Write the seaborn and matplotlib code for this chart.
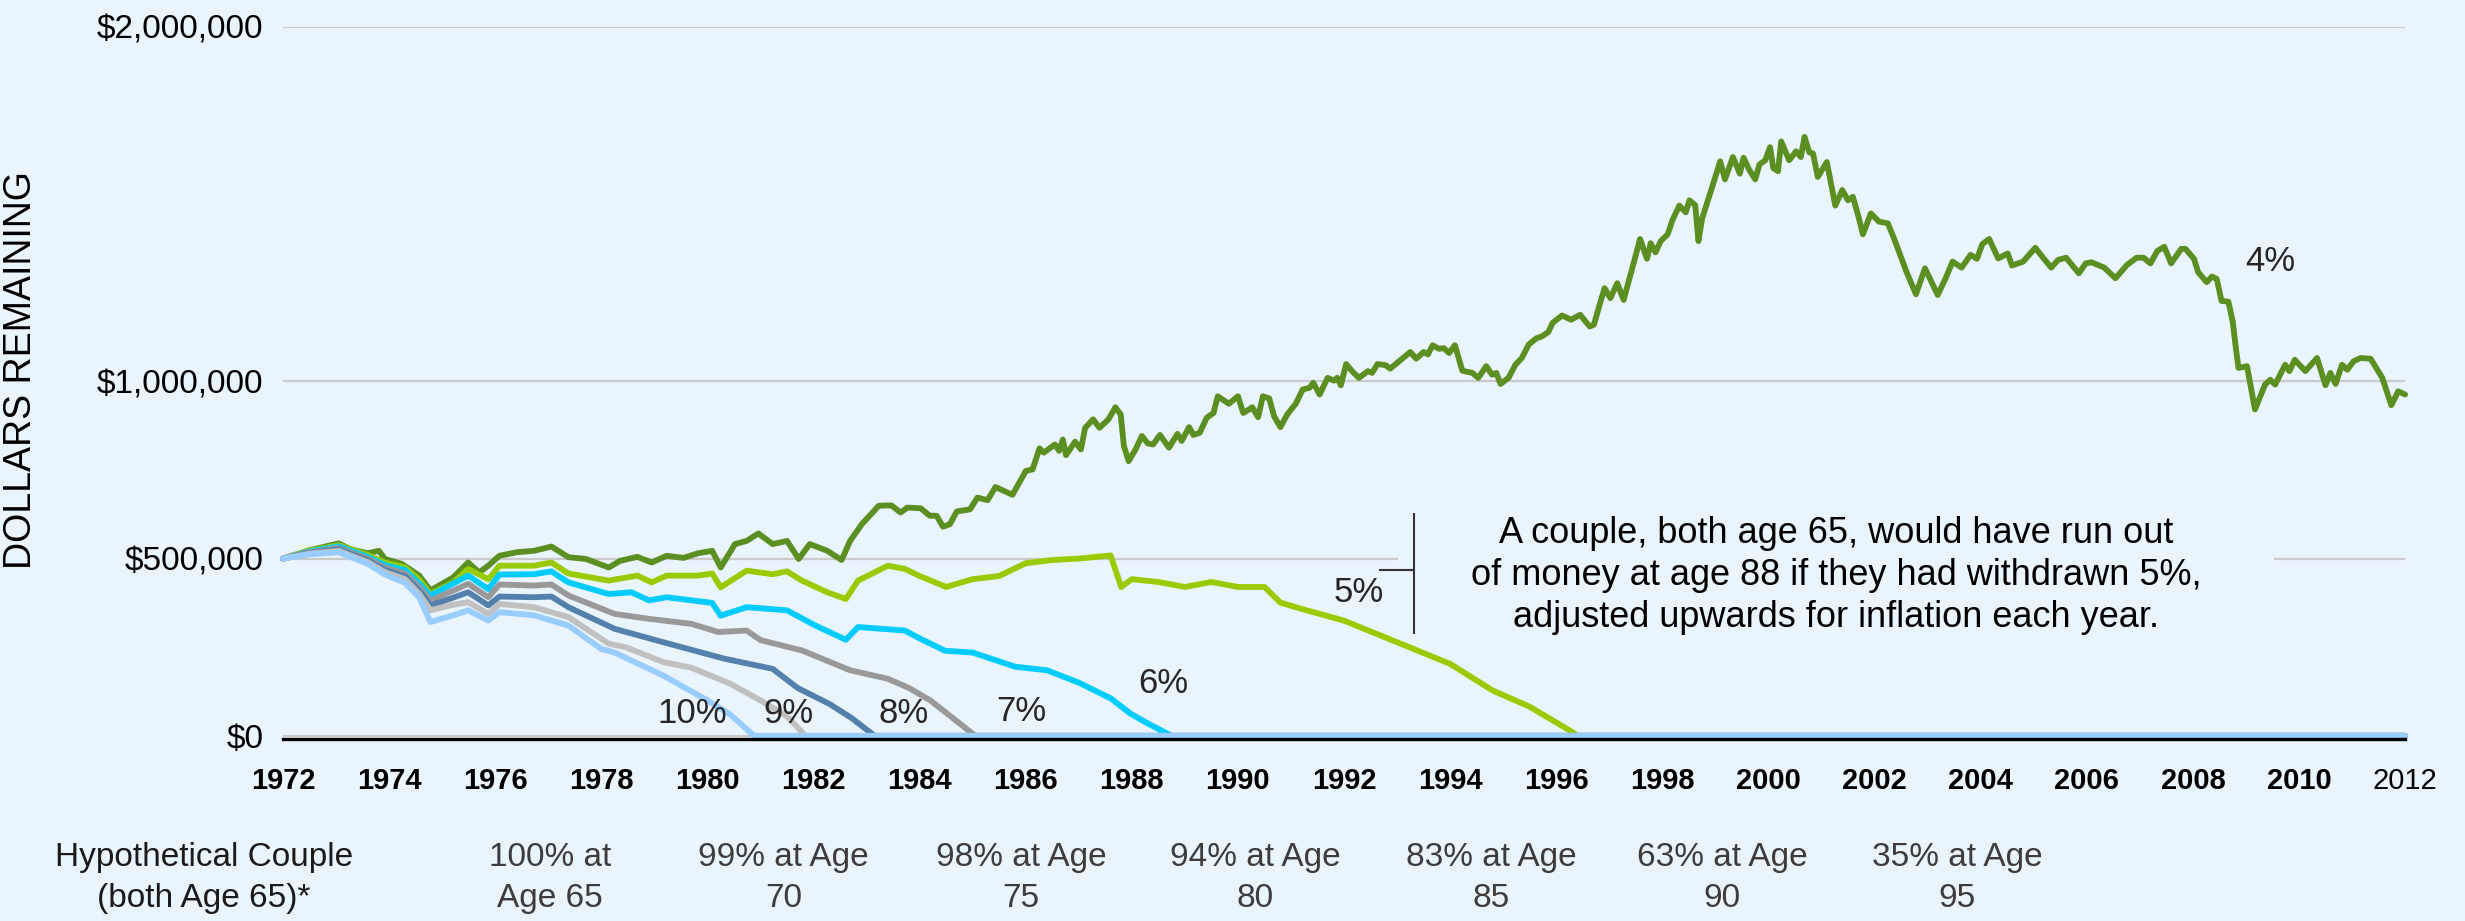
import seaborn as sns
import matplotlib.pyplot as plt
import matplotlib.transforms as mtransforms
from matplotlib.patches import Rectangle
import pandas as pd

# withdrawal rates and line colours
rates = ["4%", "5%", "6%", "7%", "8%", "9%", "10%"]
colors = ["#5B8F22", "#99CC00", "#00CCFF", "#999999", "#5381AC", "#C0C0C0", "#99CCFF"]

# dollars remaining (thousands)
yr_4 = [1972.0, 1972.51, 1973.05, 1973.26, 1973.59, 1973.81, 1973.92, 1974.24, 1974.57, 1974.78,
        1974.94, 1975.21, 1975.49, 1975.7, 1975.87, 1976.08, 1976.41, 1976.73, 1977.06, 1977.38,
        1977.71, 1978.14, 1978.36, 1978.68, 1978.95, 1979.23, 1979.55, 1979.82, 1980.09, 1980.25,
        1980.52, 1980.74, 1980.96, 1981.23, 1981.5, 1981.72, 1981.93, 1982.26, 1982.53, 1982.69,
        1982.91, 1983.23,
        1983.35, 1983.47, 1983.64, 1983.77, 1984.02, 1984.19, 1984.32, 1984.44, 1984.57, 1984.7,
        1984.95, 1985.09, 1985.28, 1985.43, 1985.75, 1986.0, 1986.13, 1986.26, 1986.34, 1986.55,
        1986.63, 1986.7, 1986.76, 1986.93, 1987.04, 1987.12, 1987.27, 1987.39, 1987.56, 1987.69,
        1987.79, 1987.85, 1987.94, 1988.07, 1988.19, 1988.3, 1988.4, 1988.53, 1988.7, 1988.86,
        1988.94, 1989.08, 1989.16, 1989.28, 1989.41, 1989.54, 1989.62, 1989.83, 1990.0, 1990.1,
        1990.21, 1990.27, 1990.38, 1990.47, 1990.59, 1990.68, 1990.8, 1990.93, 1991.09, 1991.22,
        1991.35, 1991.42, 1991.54, 1991.69, 1991.81, 1991.87, 1991.94, 1992.04, 1992.15, 1992.28,
        1992.45, 1992.53, 1992.63, 1992.78, 1992.87, 1993.04, 1993.25, 1993.36, 1993.5, 1993.58,
        1993.67, 1993.79, 1993.88, 1993.98, 1994.09, 1994.23, 1994.42, 1994.53, 1994.68, 1994.79,
        1994.87, 1994.95, 1995.1, 1995.23, 1995.35, 1995.48, 1995.63, 1995.73, 1995.85, 1995.93,
        1996.11, 1996.28, 1996.45, 1996.63, 1996.71, 1996.8, 1996.91, 1997.02, 1997.15, 1997.27,
        1997.45, 1997.58, 1997.71, 1997.78, 1997.87, 1997.97, 1998.1, 1998.19, 1998.32, 1998.44,
        1998.51, 1998.62, 1998.68, 1998.75, 1998.94, 1999.09, 1999.18, 1999.33, 1999.46, 1999.53,
        1999.63, 1999.75, 1999.83, 1999.94, 2000.03, 2000.09, 2000.18, 2000.24, 2000.39, 2000.52,
        2000.61, 2000.68, 2000.77, 2000.84, 2000.93, 2001.1, 2001.26, 2001.39, 2001.5, 2001.59,
        2001.69, 2001.78, 2001.93, 2002.08, 2002.25, 2002.37, 2002.6, 2002.78, 2002.95, 2003.19,
        2003.34, 2003.47, 2003.64, 2003.81, 2003.93, 2004.03, 2004.16, 2004.33, 2004.51, 2004.59,
        2004.8, 2005.03, 2005.16, 2005.33, 2005.46, 2005.61, 2005.85, 2005.98, 2006.09, 2006.33,
        2006.54, 2006.76, 2006.94, 2007.07, 2007.2, 2007.33, 2007.46, 2007.59, 2007.78, 2007.86,
        2008.02, 2008.1, 2008.26, 2008.36, 2008.45, 2008.54, 2008.67, 2008.75, 2008.81, 2008.86,
        2009.02, 2009.17, 2009.36, 2009.46, 2009.55, 2009.74, 2009.82, 2009.92, 2010.12, 2010.34,
        2010.5, 2010.59, 2010.69, 2010.81, 2010.91, 2011.03, 2011.16, 2011.35, 2011.57, 2011.74,
        2011.87, 2012.0]
val_4 = [500, 524, 543, 527, 515, 522, 499, 485, 452, 410,
         424, 447, 489, 461, 480, 508, 518, 522, 534, 504,
         499, 475, 494, 505, 489, 508, 502, 515, 522, 475,
         541, 550, 571, 541, 550, 499, 541, 522, 496, 550,
         597, 649,
         650, 650, 630, 644, 642, 621, 621, 590, 597, 633,
         639, 672, 665, 702, 680, 747, 752, 811, 799, 822,
         804, 836, 792, 830, 808, 869, 893, 869, 893, 927,
         907, 818, 775, 808, 846, 825, 822, 849, 813, 852,
         832, 871, 849, 855, 897, 911, 958, 937, 958, 911,
         921, 927, 899, 958, 952, 902, 871, 907, 937, 977,
         982, 996, 963, 1010, 1002, 1010, 989, 1049, 1029, 1010,
         1029, 1024, 1049, 1046, 1036, 1057, 1083, 1064, 1083, 1076,
         1102, 1092, 1094, 1080, 1102, 1030, 1024, 1010, 1043, 1019,
         1024, 993, 1010, 1047, 1066, 1104, 1122, 1127, 1139, 1165,
         1186, 1174, 1188, 1155, 1160, 1207, 1263, 1235, 1277, 1230,
         1329, 1402, 1346, 1390, 1364, 1396, 1415, 1455, 1496, 1477,
         1511, 1497, 1396, 1460, 1549, 1621, 1570, 1633, 1586, 1631,
         1599, 1570, 1612, 1624, 1661, 1602, 1593, 1677, 1624, 1649,
         1633, 1690, 1646, 1643, 1577, 1619, 1496, 1540, 1511, 1521,
         1469, 1415, 1474, 1451, 1446, 1402, 1310, 1246, 1319, 1244,
         1291, 1338, 1321, 1357, 1346, 1387, 1402, 1347, 1361, 1327,
         1338, 1377, 1352, 1321, 1343, 1349, 1305, 1333, 1336, 1321,
         1291, 1329, 1349, 1349, 1333, 1368, 1380, 1333, 1374, 1374,
         1346, 1308, 1280, 1296, 1289, 1227, 1225, 1169, 1094, 1038,
         1043, 921, 991, 1005, 991, 1047, 1029, 1061, 1029, 1066,
         989, 1024, 993, 1047, 1033, 1057, 1066, 1064, 1010, 933,
         972, 963]

yr_5 = [1972.0, 1972.5, 1973.05, 1973.6, 1973.92, 1974.3, 1974.57, 1974.78, 1975.21, 1975.49,
        1975.87, 1976.08, 1976.73, 1977.06, 1977.38, 1978.14, 1978.68, 1978.95, 1979.23, 1979.82,
        1980.09, 1980.25, 1980.74, 1981.23, 1981.5, 1981.78, 1982.26, 1982.61, 1982.84, 1983.4,
        1983.72, 1984.0, 1984.5, 1985.0, 1985.5, 1986.0, 1986.5, 1987.0, 1987.6, 1987.8,
        1988.0, 1988.5, 1989.0, 1989.5, 1990.0, 1990.5, 1990.8, 1991.2, 1992.0, 1993.0,
        1994.0, 1994.8, 1995.5, 1996.3, 1996.4, 2012.0]
val_5 = [500, 522, 538, 510, 489, 475, 440, 400, 433, 471,
         442, 480, 480, 489, 458, 438, 452, 433, 452, 452,
         458, 419, 466, 456, 464, 438, 405, 386, 438, 480,
         471, 451, 420, 442, 451, 487, 496, 500, 509, 420,
         442, 434, 420, 434, 420, 420, 376, 358, 325, 264,
         203, 128, 82, 11, 0, 0]

yr_6 = [1972.0, 1972.5, 1973.05, 1973.6, 1973.92, 1974.3, 1974.57, 1974.78, 1975.21, 1975.49,
        1975.87, 1976.08, 1976.73, 1977.06, 1977.38, 1978.14, 1978.57, 1978.9, 1979.23, 1980.09,
        1980.25, 1980.74, 1981.5, 1982.04, 1982.61, 1982.84, 1983.72, 1984.0, 1984.48, 1985.0,
        1985.8, 1986.4, 1987.0, 1987.61, 1987.97, 1988.3, 1988.75, 2012.0]
val_6 = [500, 520, 535, 505, 482, 468, 430, 396, 430, 452,
         414, 455, 456, 464, 433, 400, 405, 382, 391, 375,
         339, 363, 354, 311, 271, 307, 297, 275, 240, 235,
         195, 185, 150, 105, 63, 35, 0, 0]

yr_7 = [1972.0, 1972.5, 1973.05, 1973.6, 1973.92, 1974.3, 1974.57, 1974.78, 1975.21, 1975.49,
        1975.87, 1976.08, 1976.73, 1977.06, 1977.38, 1978.25, 1978.9, 1979.7, 1980.2, 1980.74,
        1981.0, 1981.78, 1982.69, 1983.4, 1983.8, 1984.2, 1984.5, 1985.05, 2012.0]
val_7 = [500, 518, 530, 500, 475, 458, 420, 382, 410, 429,
         391, 427, 424, 427, 396, 344, 330, 316, 293, 297,
         270, 241, 185, 161, 135, 100, 65, 0, 0]

yr_8 = [1972.0, 1972.5, 1973.05, 1973.6, 1973.92, 1974.3, 1974.57, 1974.78, 1975.21, 1975.49,
        1975.87, 1976.08, 1976.73, 1977.06, 1977.38, 1978.25, 1979.17, 1980.31, 1981.23, 1981.7,
        1982.3, 1982.72, 1983.15, 2012.0]
val_8 = [500, 516, 526, 495, 468, 450, 410, 368, 390, 405,
         368, 393, 391, 393, 363, 302, 264, 218, 189, 135,
         90, 50, 0, 0]

yr_9 = [1972.0, 1972.5, 1973.05, 1973.6, 1973.92, 1974.3, 1974.57, 1974.78, 1975.21, 1975.49,
        1975.87, 1976.08, 1976.73, 1977.38, 1978.14, 1978.46, 1979.17, 1979.7, 1980.43, 1981.0,
        1981.5, 1981.85, 2012.0]
val_9 = [500, 514, 522, 490, 462, 442, 400, 354, 370, 377,
         344, 372, 363, 335, 260, 250, 208, 192, 147, 100,
         55, 0, 0]

yr_10 = [1972.0, 1972.5, 1973.05, 1973.6, 1973.92, 1974.3, 1974.57, 1974.78, 1975.21, 1975.49,
         1975.87, 1976.08, 1976.73, 1977.38, 1978.0, 1978.25, 1979.17, 1980.0, 1980.43, 1980.88,
         2012.0]
val_10 = [500, 512, 518, 485, 455, 432, 390, 321, 340, 354,
          325, 349, 340, 311, 245, 235, 170, 100, 60, 0,
          0]

year_ticks = list(range(1972, 2013, 2))
y_ticks = [0, 500000, 1000000, 2000000]
y_tick_labels = ["$0", "$500,000", "$1,000,000", "$2,000,000"]

age_labels = ["100% at\nAge 65", "99% at Age\n70", "98% at Age\n75", "94% at Age\n80",
              "83% at Age\n85", "63% at Age\n90", "35% at Age\n95"]
note = ("A couple, both age 65, would have run out\n"
        "of money at age 88 if they had withdrawn 5%,\n"
        "adjusted upwards for inflation each year.")

series = [yr_4, yr_5, yr_6, yr_7, yr_8, yr_9, yr_10]
values = [val_4, val_5, val_6, val_7, val_8, val_9, val_10]
rows = []
for rate, yrs, vals in zip(rates, series, values):
    for y, v in zip(yrs, vals):
        rows.append({"year": y, "value": v * 1000, "rate": rate})
df = pd.DataFrame(rows)

bg = "#EAF4FD"
sns.set_theme(style="white", rc={"axes.facecolor": bg, "figure.facecolor": bg})
plt.rcParams["font.family"] = ["Liberation Sans", "DejaVu Sans"]

fig = plt.figure(figsize=(24.65, 9.21), dpi=100)
ax = fig.add_axes([0.1148, 0.1976, 0.8609, 0.7731])

sns.lineplot(data=df, x="year", y="value", hue="rate", hue_order=rates,
             palette=dict(zip(rates, colors)), estimator=None, sort=False,
             linewidth=4.2, legend=False, ax=ax)
for ln in ax.lines:
    ln.set_clip_on(False)

ax.set_xlim(1972, 2012)
# small margin below zero so the spent-out lines sit just on top of the axis
ax.set_ylim(-9000, 2000000)
ax.set_xticks(year_ticks)
ax.set_xticklabels([str(y) for y in year_ticks])
for lbl in ax.get_xticklabels()[:-1]:
    lbl.set_fontweight("bold")
ax.set_yticks(y_ticks)
ax.set_yticklabels(y_tick_labels)
ax.set_xlabel("")
ax.set_ylabel("")

ax.yaxis.grid(True, color="#CACACA", linewidth=1.6)
ax.xaxis.grid(False)
sns.despine(ax=ax, left=True)
ax.spines["bottom"].set_color("black")
ax.spines["bottom"].set_linewidth(2.4)
ax.tick_params(axis="y", length=0, pad=14, labelsize=24, labelcolor="black")
ax.tick_params(axis="x", direction="out", length=7, width=1.5, color="#333333",
               pad=13, labelsize=21, labelcolor="black")

fig.text(21 / 2465, 1 - 370 / 921, "DOLLARS REMAINING", rotation=90,
         ha="center", va="center", fontsize=27, color="black")

# rate labels
ax.text(2008.98, 1339000, "4%", fontsize=25, ha="left", va="center")
ax.text(1992.75, 405000, "5%", fontsize=25, ha="right", va="center")
ax.text(1988.6, 147000, "6%", fontsize=25, ha="center", va="center")
ax.text(1985.92, 70000, "7%", fontsize=25, ha="center", va="center")
ax.text(1983.69, 63000, "8%", fontsize=25, ha="center", va="center")
ax.text(1981.53, 63000, "9%", fontsize=25, ha="center", va="center")
ax.text(1979.72, 63000, "10%", fontsize=25, ha="center", va="center")

# call-out for the 5% line
ax.add_patch(Rectangle((1993.02, 470000), 16.5, 60000, facecolor=bg,
                       edgecolor="none", zorder=1))
ax.vlines(1993.32, 287000, 630000, color="#333333", linewidth=1.5)
ax.hlines(467000, 1992.66, 1993.32, color="#333333", linewidth=1.5)
ax.text(2001.28, 453000, note, fontsize=26, ha="center", va="center",
        linespacing=1.25, color="black")

# survival probabilities row
trans = mtransforms.blended_transform_factory(ax.transData, fig.transFigure)
ax.text(1970.51, 0.0467, "Hypothetical Couple\n(both Age 65)*", transform=trans,
        fontsize=24, ha="center", va="center", linespacing=1.4, color="#1A1A1A")
age_x = [1977.03, 1981.44, 1985.91, 1990.32, 1994.78, 1999.13, 2003.56]
for x, lbl in zip(age_x, age_labels):
    ax.text(x, 0.0467, lbl, transform=trans, fontsize=24, ha="center", va="center",
            linespacing=1.4, color="#3C3C3C")

fig.savefig("out.png", dpi=100, facecolor=bg)
